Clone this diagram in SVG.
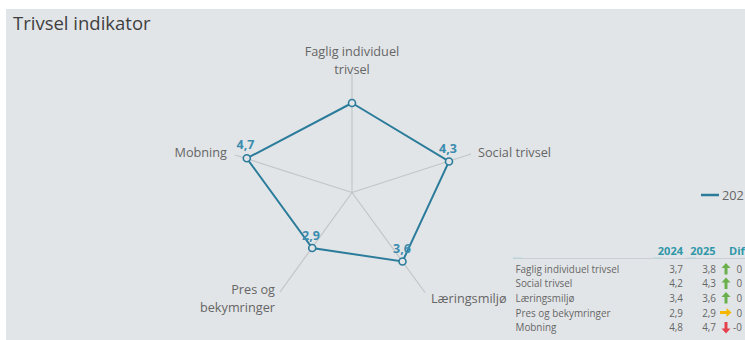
<svg xmlns="http://www.w3.org/2000/svg" width="745" height="340" viewBox="0 0 745 340">
<style>
.bg{fill:#e2e5e8}
.title{font-family:"Open Sans","Noto Sans",sans-serif;font-size:18.5px;fill:#3f3f3f}
.ax{stroke:#c3c5c7;stroke-width:1.2;fill:none}
.lbl{font-family:"Open Sans","Noto Sans",sans-serif;font-size:12.7px;fill:#666666}
.val{font-family:"Open Sans","Noto Sans",sans-serif;font-size:12.5px;font-weight:bold;fill:#3b8cae}
.poly{fill:none;stroke:#2b7c9b;stroke-width:2}
.pt{fill:#e2e5e8;stroke:#2b7c9b;stroke-width:1.6}
.th{font-family:"Open Sans","Noto Sans",sans-serif;font-size:11px;font-weight:bold;fill:#3197a8}
.td{font-family:"Open Sans","Noto Sans",sans-serif;font-size:9.9px;fill:#666666}
.num{text-anchor:end}
</style>
<rect class="bg" x="6" y="9" width="739" height="331"/>
<text class="title" x="13" y="30">Trivsel indikator</text>

<g id="connectors">
<line class="ax" x1="352" y1="192.5" x2="352" y2="74"/>
<line class="ax" x1="352" y1="192.5" x2="471" y2="154"/>
<line class="ax" x1="352" y1="192.5" x2="425" y2="292.5"/>
<line class="ax" x1="352" y1="192.5" x2="280" y2="292"/>
<line class="ax" x1="352" y1="192.5" x2="235" y2="155"/>
<polygon class="poly" points="352,103 449,161.5 402.5,261.5 312.2,248 246.8,158.3"/>
</g>

<g id="faglig">
<circle class="pt" cx="352" cy="103" r="3.5"/>
<text class="lbl" x="352" y="55.5" text-anchor="middle">Faglig individuel</text>
<text class="lbl" x="352" y="74" text-anchor="middle">trivsel</text>
</g>
<g id="social">
<circle class="pt" cx="449" cy="161.5" r="3.5"/>
<text class="val" x="448" y="153" text-anchor="middle">4,3</text>
<text class="lbl" x="478" y="157">Social trivsel</text>
</g>
<g id="laering">
<circle class="pt" cx="402.5" cy="261.5" r="3.5"/>
<text class="val" x="402" y="253" text-anchor="middle">3,6</text>
<text class="lbl" x="431" y="303">Læringsmiljø</text>
</g>
<g id="pres">
<circle class="pt" cx="312.2" cy="248" r="3.5"/>
<text class="val" x="311" y="239.5" text-anchor="middle">2,9</text>
<text class="lbl" x="275" y="294" text-anchor="end">Pres og</text>
<text class="lbl" x="275" y="311.5" text-anchor="end">bekymringer</text>
</g>
<g id="mobning">
<circle class="pt" cx="246.8" cy="158.3" r="3.5"/>
<text class="val" x="245.5" y="148.5" text-anchor="middle">4,7</text>
<text class="lbl" x="227" y="157" text-anchor="end">Mobning</text>
</g>

<g id="legend">
<line x1="701" y1="195" x2="719" y2="195" stroke="#2b7c9b" stroke-width="2.5"/>
<text class="lbl" x="722" y="199.5">202</text>
</g>

<g id="table">
<text class="th num" x="683" y="255">2024</text>
<text class="th num" x="715.5" y="255">2025</text>
<text class="th" x="729" y="255">Dif</text>
<line x1="513" y1="258.5" x2="745" y2="258.5" stroke="#c9cfd4" stroke-width="1"/>
<line x1="513" y1="258" x2="522" y2="258" stroke="#b7d6de" stroke-width="1"/>
<line x1="653" y1="258" x2="662" y2="258" stroke="#b7d6de" stroke-width="1"/>
<line x1="687" y1="258" x2="696" y2="258" stroke="#b7d6de" stroke-width="1"/>

<text class="td" x="515.5" y="272.5">Faglig individuel trivsel</text>
<text class="td num" x="683" y="272.5">3,7</text>
<text class="td num" x="716" y="272.5">3,8</text>
<path d="M726,263 l-4.5,5 h3 v6.5 h3 v-6.5 h3 z" fill="#6ab04c"/>
<text class="td" x="736.5" y="272.5">0</text>

<text class="td" x="515.5" y="287">Social trivsel</text>
<text class="td num" x="683" y="287">4,2</text>
<text class="td num" x="716" y="287">4,3</text>
<path d="M726,277.5 l-4.5,5 h3 v6.5 h3 v-6.5 h3 z" fill="#6ab04c"/>
<text class="td" x="736.5" y="287">0</text>

<text class="td" x="515.5" y="301.5">Læringsmiljø</text>
<text class="td num" x="683" y="301.5">3,4</text>
<text class="td num" x="716" y="301.5">3,6</text>
<path d="M726,292 l-4.5,5 h3 v6.5 h3 v-6.5 h3 z" fill="#6ab04c"/>
<text class="td" x="736.5" y="301.5">0</text>

<text class="td" x="515.5" y="316.5">Pres og bekymringer</text>
<text class="td num" x="683" y="316.5">2,9</text>
<text class="td num" x="716" y="316.5">2,9</text>
<path d="M731.5,312.5 l-5,-4.5 v3 h-6.5 v3 h6.5 v3 z" fill="#f5b700"/>
<text class="td" x="736.5" y="316.5">0</text>

<text class="td" x="515.5" y="331">Mobning</text>
<text class="td num" x="683" y="331">4,8</text>
<text class="td num" x="716" y="331">4,7</text>
<path d="M726,333.5 l-4.5,-5 h3 v-6.5 h3 v6.5 h3 z" fill="#e5404e"/>
<text class="td" x="733" y="331">-0</text>
</g>
</svg>
